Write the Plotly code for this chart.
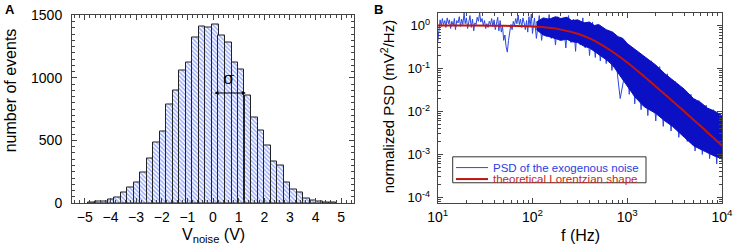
import plotly.graph_objects as go

# ---------------- Panel A data (histogram of noise amplitude) ----------------
bin_centers = [-4.74, -4.49, -4.23, -3.98, -3.72, -3.47, -3.22, -2.96, -2.71, -2.45,
               -2.20, -1.95, -1.69, -1.44, -1.18, -0.93, -0.68, -0.42, -0.17, 0.09,
               0.34, 0.60, 0.85, 1.10, 1.36, 1.61, 1.87, 2.12, 2.37, 2.63,
               2.88, 3.14, 3.39, 3.64, 3.90, 4.15, 4.41, 4.66]
bin_counts = [8, 11, 16, 29, 48, 82, 128, 162, 247, 354,
              481, 569, 789, 900, 1060, 1121, 1327, 1412, 1405, 1425,
              1340, 1287, 1121, 1066, 860, 687, 578, 458, 332, 298,
              165, 109, 82, 40, 22, 15, 4, 4]
bin_width = 0.254
sigma_value = 1.28
sigma_level = 880

# ---------------- Panel B data (PSD) ----------------
noise_f = [10.0, 10.3, 10.6, 10.9, 11.2, 11.5, 11.9, 12.2, 12.6, 13.0, 13.3, 13.7, 14.1,
           14.6, 15.0, 15.4, 15.9, 16.4, 16.9, 17.4, 17.9, 18.4, 19.0, 19.5, 20.1, 20.7,
           21.3, 21.9, 22.6, 23.3, 24.0, 24.7, 25.4, 26.1, 26.9, 27.7, 28.5, 29.4, 30.3,
           31.2, 32.1, 33.0, 34.0, 35.0, 36.1, 37.1, 38.2, 39.4, 40.5, 41.7, 43.0, 44.2,
           45.6, 46.9, 48.3, 49.7, 51.2, 52.7, 54.3, 55.9, 57.5, 59.2, 61.0, 62.8, 64.6,
           66.6, 68.5, 70.6, 72.7, 74.8, 77.0, 79.3, 81.7, 84.1, 86.6, 89.1, 91.8, 94.5,
           97.3, 100, 105, 110, 118, 125, 132, 140, 150, 158, 165, 175, 185, 195, 210,
           225, 240, 255, 270, 285, 300, 320, 340, 360, 380, 400, 430, 460, 490, 520,
           560, 600, 640, 690, 740, 790, 843, 910, 980, 1050, 1120, 1200, 1300, 1400,
           1500, 1650, 1800, 2000, 2200, 2400, 2650, 2900, 3200, 3500, 3900, 4300, 4700,
           5200, 5700, 6200, 6800, 7400, 8100, 8800, 9400, 10000]
noise_psd = [0.40, 0.75, 1.35, 0.95, 1.45, 1.05, 1.30, 0.90, 1.50, 1.10, 1.35, 0.85, 1.25,
             1.00, 1.45, 0.80, 1.30, 1.15, 1.60, 0.95, 1.40, 1.05, 1.95, 1.10, 1.50, 0.85,
             1.20, 1.70, 0.90, 1.40, 0.75, 1.15, 1.05, 1.55, 1.25, 1.95, 1.20, 1.45, 1.00,
             1.30, 0.85, 1.10, 0.90, 1.25, 1.05, 1.45, 0.95, 1.35, 0.80, 1.20, 1.55, 0.75,
             1.30, 0.70, 0.95, 0.45, 0.60, 0.32, 0.24, 0.45, 0.75, 1.05, 0.80, 1.25, 1.00,
             1.45, 1.10, 1.75, 1.05, 1.40, 0.90, 1.50, 1.15, 0.80, 1.30, 0.70, 1.60, 0.95,
             1.85, 0.65, 1.50, 0.50, 1.70, 0.45, 1.40, 0.55, 1.80, 0.50, 1.30, 0.35, 1.60,
             0.45, 1.50, 0.30, 1.70, 0.40, 1.40, 0.25, 1.30, 0.35, 1.50, 0.30, 1.10, 0.20,
             1.20, 0.18, 0.95, 0.15, 0.85, 0.13, 0.70, 0.09, 0.55, 0.07, 0.02, 0.05, 0.38,
             0.025, 0.30, 0.015, 0.22, 0.011, 0.18, 0.008, 0.15, 0.006, 0.11, 0.0045,
             0.075, 0.0035, 0.05, 0.0025, 0.035, 0.002, 0.025, 0.0012, 0.018, 0.001,
             0.014, 0.0008, 0.011, 0.0006, 0.009, 0.0007]

band_f = [110, 130, 150, 175, 200, 230, 260, 300, 350, 400, 450, 500, 600, 700, 800,
          900, 1000, 1200, 1500, 2000, 2500, 3000, 4000, 5000, 6000, 7000, 8500, 10000]
band_upper = [1.2, 1.5, 1.4, 1.6, 1.45, 1.55, 1.3, 1.35, 1.15, 1.2, 1.0, 1.05, 0.8, 0.7,
              0.55, 0.5, 0.38, 0.28, 0.19, 0.12, 0.075, 0.055, 0.033, 0.02, 0.016, 0.012,
              0.01, 0.008]
band_lower = [0.8, 0.6, 0.55, 0.5, 0.45, 0.48, 0.42, 0.4, 0.33, 0.3, 0.25, 0.22, 0.16,
              0.12, 0.08, 0.055, 0.04, 0.022, 0.013, 0.009, 0.006, 0.0045, 0.0025, 0.0016,
              0.0013, 0.0011, 0.0009, 0.0008]

lor_f = [10, 20, 50, 100, 150, 200, 300, 400, 500, 700, 1000, 1500, 2000, 3000, 5000, 7000, 10000]
lor_psd = [1.0, 1.0, 0.985, 0.94, 0.88, 0.80, 0.64, 0.50, 0.39, 0.245, 0.138, 0.066,
           0.038, 0.0175, 0.0064, 0.0033, 0.0016]

legend_labels = ["PSD of the exogenous noise", "theoretical Lorentzian shape"]

y_tickvals = [1e-4, 1e-3, 1e-2, 1e-1, 1]
y_ticktext = ["10<sup>-4</sup>", "10<sup>-3</sup>", "10<sup>-2</sup>", "10<sup>-1</sup>", "10<sup>0</sup>"]
x_tickvals = [10, 100, 1000, 10000]
x_ticktext = ["10<sup>1</sup>", "10<sup>2</sup>", "10<sup>3</sup>", "10<sup>4</sup>"]

FONT = "Liberation Sans, Arial, sans-serif"
W, H = 737, 252
ML, MR, MT, MB = 72, 15, 12.5, 49
PW = W - ML - MR
PH = H - MT - MB

BLUE_DARK = "#0b10c4"
BLUE_LINE = "#2a48e0"
RED = "#c0140c"


def px_x(p):
    return (p - ML) / PW


def px_y(p):
    return (H - MB - p) / PH


minor_log_x = [v * 10 ** e for e in range(1, 4) for v in range(2, 10)]
minor_log_y = [v * 10.0 ** e for e in range(-5, 1) for v in range(2, 10)]

fig = go.Figure()

# Panel A
fig.add_trace(go.Bar(
    x=bin_centers, y=bin_counts, width=bin_width,
    marker=dict(color="white", line=dict(color="#222", width=1),
                pattern=dict(shape="\\", fgcolor="#3a5cf0", bgcolor="white",
                             size=3, solidity=0.5)),
    xaxis="x", yaxis="y", showlegend=False))

# Panel B
fig.add_trace(go.Scatter(
    x=noise_f, y=noise_psd, mode="lines", line=dict(color=BLUE_LINE, width=1),
    xaxis="x2", yaxis="y2", showlegend=False))
fig.add_trace(go.Scatter(
    x=band_f, y=band_lower, mode="lines", line=dict(color=BLUE_DARK, width=1),
    xaxis="x2", yaxis="y2", showlegend=False, hoverinfo="skip"))
fig.add_trace(go.Scatter(
    x=band_f, y=band_upper, mode="lines", line=dict(color=BLUE_DARK, width=1),
    fill="tonexty", fillcolor=BLUE_DARK,
    xaxis="x2", yaxis="y2", showlegend=False, hoverinfo="skip"))
fig.add_trace(go.Scatter(
    x=lor_f, y=lor_psd, mode="lines", line=dict(color=RED, width=2, shape="spline"),
    xaxis="x2", yaxis="y2", showlegend=False))

axis_common = dict(showline=True, linecolor="#444", linewidth=1, mirror="ticks",
                   ticks="inside", tickcolor="#444", showgrid=False, zeroline=False)

xa_dom = [0, px_x(354)]
xb_dom = [px_x(437.7), 1]

fig.update_layout(
    width=W, height=H, margin=dict(l=ML, r=MR, t=MT, b=MB, autoexpand=False),
    paper_bgcolor="white", plot_bgcolor="white",
    font=dict(family=FONT, color="black"),
    bargap=0, showlegend=False,
    xaxis=dict(domain=xa_dom, anchor="y", range=[-5.5, 5.5], tickmode="array",
               tickvals=[-5, -4, -3, -2, -1, 0, 1, 2, 3, 4, 5], ticklen=5,
               minor=dict(dtick=0.2, tick0=0, ticks="inside", ticklen=3, tickcolor="#444"),
               ticklabelstandoff=1, tickfont=dict(family=FONT, size=14, color="black"),
               **axis_common),
    yaxis=dict(domain=[0, px_y(15)], anchor="x", range=[0, 1500], tickmode="array",
               tickvals=[0, 500, 1000, 1500], ticklen=5,
               minor=dict(dtick=50, ticks="inside", ticklen=3, tickcolor="#444"),
               ticklabelstandoff=6, tickfont=dict(family=FONT, size=14, color="black"),
               **axis_common),
    xaxis2=dict(domain=xb_dom, anchor="y2", type="log", range=[1, 4], tickmode="array",
                tickvals=x_tickvals, ticktext=x_ticktext, ticklen=5,
                minor=dict(tickmode="array", tickvals=minor_log_x, ticks="inside",
                           ticklen=3, tickcolor="#444"),
                ticklabelstandoff=1, tickfont=dict(family=FONT, size=14, color="black"),
                **axis_common),
    yaxis2=dict(domain=[0, 1], anchor="x2", type="log", range=[-4.13, 0.29],
                tickmode="array", tickvals=y_tickvals, ticktext=y_ticktext, ticklen=5,
                minor=dict(tickmode="array", tickvals=minor_log_y, ticks="inside",
                           ticklen=3, tickcolor="#444"),
                ticklabelstandoff=4, tickfont=dict(family=FONT, size=13, color="black"),
                **axis_common),
)

# Manual legend box for panel B
LX0, LX1, LY0, LY1 = 452.7, 646, 156.7, 182.7
shapes = [
    dict(type="rect", xref="paper", yref="paper", x0=px_x(LX0), x1=px_x(LX1),
         y0=px_y(LY1), y1=px_y(LY0), line=dict(color="#333", width=1), fillcolor="white",
         layer="above"),
    dict(type="line", xref="paper", yref="paper", x0=px_x(456), x1=px_x(488),
         y0=px_y(167.5), y1=px_y(167.5), line=dict(color=BLUE_LINE, width=1), layer="above"),
    dict(type="line", xref="paper", yref="paper", x0=px_x(456), x1=px_x(488),
         y0=px_y(179), y1=px_y(179), line=dict(color=RED, width=2), layer="above"),
]


def note(text, xp, yp, size, angle=0, color="black", xanchor="center", family=FONT):
    return dict(text=text, x=px_x(xp), y=px_y(yp), xref="paper", yref="paper",
                xanchor=xanchor, yanchor="middle", textangle=angle, showarrow=False,
                font=dict(size=size, family=family, color=color))


annotations = [
    note("<b>A</b>", 10, 9, 13),
    note("<b>B</b>", 378, 9, 13),
    note("number of events", 10, 90, 16, angle=-90),
    note("V<sub>noise</sub> (V)", 213, 236, 16),
    note("normalized PSD (mV<sup>2</sup>/Hz)", 387, 107, 15, angle=-90),
    note("f (Hz)", 580, 236, 16),
    dict(text="σ", x=0.62, y=1000, xref="x", yref="y", showarrow=False,
         xanchor="center", yanchor="middle",
         font=dict(size=17, family="DejaVu Serif, serif")),
    dict(text="", x=sigma_value, y=sigma_level, ax=0, ay=sigma_level, xref="x", yref="y",
         axref="x", ayref="y", showarrow=True, arrowhead=2, startarrowhead=2,
         arrowside="end+start", arrowsize=0.8, arrowwidth=1, arrowcolor="black"),
    note(legend_labels[0], 491, 167.5, 11.5, color="#2a3ee0", xanchor="left"),
    note(legend_labels[1], 491, 179, 11.5, color="#c0281c", xanchor="left"),
]
fig.update_layout(annotations=annotations, shapes=shapes)

fig.write_html("out.html", post_script="document.body.style.margin='0px';",
               config={"displayModeBar": False})
